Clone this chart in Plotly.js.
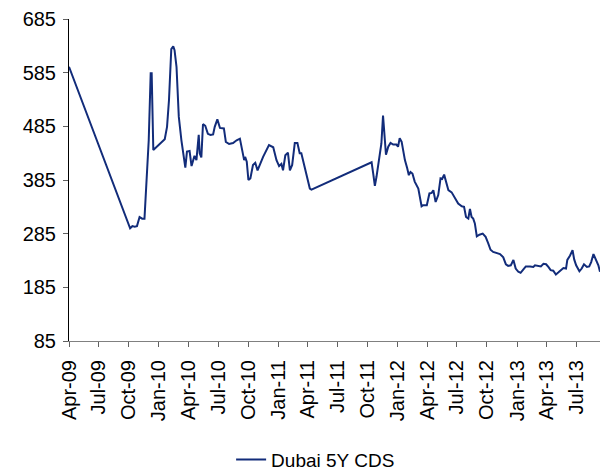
<!DOCTYPE html>
<html>
<head>
<meta charset="utf-8">
<script src="https://cdn.plot.ly/plotly-3.0.1.min.js"></script>
<style>
  html, body { margin: 0; padding: 0; background: #ffffff; }
  #chart { width: 605px; height: 472px; }
</style>
</head>
<body>
<div id="chart"></div>
<script>
// Dubai 5Y CDS (bp)
var dates = [
  "2009-04-01","2009-10-05","2009-10-12","2009-10-19","2009-10-26","2009-11-03","2009-11-11","2009-11-18",
  "2009-12-01","2009-12-07","2009-12-10","2009-12-15","2010-01-19","2010-01-26","2010-02-01","2010-02-08",
  "2010-02-14","2010-02-18","2010-02-24","2010-03-03","2010-03-11","2010-03-18","2010-03-23","2010-03-28",
  "2010-04-05","2010-04-11","2010-04-15","2010-04-20","2010-04-26","2010-05-03","2010-05-06","2010-05-11",
  "2010-05-16","2010-05-23","2010-05-31","2010-06-08","2010-06-16","2010-06-21","2010-06-29","2010-07-07",
  "2010-07-19","2010-07-25","2010-08-04","2010-08-16","2010-08-27","2010-09-06","2010-09-19","2010-09-22",
  "2010-09-27","2010-10-02","2010-10-08","2010-10-16","2010-10-23","2010-10-30","2010-11-16","2010-12-04",
  "2010-12-17","2010-12-27","2011-01-04","2011-01-11","2011-01-16","2011-01-23","2011-01-31","2011-02-06",
  "2011-02-13","2011-02-21","2011-03-01","2011-03-08","2011-03-13","2011-03-23","2011-04-08","2011-04-13",
  "2011-10-14","2011-10-19","2011-10-24","2011-10-29","2011-11-06","2011-11-13","2011-11-18","2011-11-21",
  "2011-11-27","2011-12-04","2011-12-11","2011-12-19","2011-12-29","2012-01-03","2012-01-08","2012-01-14",
  "2012-01-24","2012-01-31","2012-02-05","2012-02-10","2012-02-16","2012-02-23","2012-03-05","2012-03-15",
  "2012-03-20","2012-03-31","2012-04-08","2012-04-15","2012-04-20","2012-04-27","2012-05-05","2012-05-12",
  "2012-05-17","2012-05-23","2012-05-28","2012-06-05","2012-06-15","2012-06-25","2012-07-05","2012-07-16",
  "2012-07-23","2012-07-29","2012-08-05","2012-08-10","2012-08-15","2012-08-20","2012-08-25","2012-08-31",
  "2012-09-08","2012-09-18","2012-09-27","2012-10-05","2012-10-12","2012-10-20","2012-10-31","2012-11-10",
  "2012-11-20","2012-11-28","2012-12-05","2012-12-13","2012-12-21","2012-12-28","2013-01-05","2013-01-12",
  "2013-01-20","2013-01-28","2013-02-10","2013-02-20","2013-02-25","2013-03-07","2013-03-15","2013-03-23",
  "2013-03-31","2013-04-07","2013-04-14","2013-04-22","2013-04-30","2013-05-08","2013-05-15","2013-05-23",
  "2013-05-31","2013-06-04","2013-06-12","2013-06-20","2013-06-25","2013-07-01","2013-07-11","2013-07-18",
  "2013-07-25","2013-08-03","2013-08-10","2013-08-16","2013-08-23","2013-08-31","2013-09-07","2013-09-12"
];
var cds = [
  596,295,299,298,299,316,313,313,
  459,584,584,441,461,484,534,629,
  634,627,596,503,459,428,408,438,
  439,411,419,430,422,469,435,427,
  489,486,471,469,470,484,498,482,
  481,456,452,454,459,462,422,428,
  419,385,388,413,417,403,428,450,
  446,422,411,415,403,431,436,403,
  413,454,454,435,435,410,369,367,
  418,397,374,391,425,453,505,478,
  432,447,454,451,451,447,463,456,
  422,407,394,400,397,382,369,336,
  338,338,360,361,366,344,357,388,
  387,395,382,366,362,351,341,336,
  335,316,313,331,316,313,304,280,
  283,285,279,267,255,251,249,247,
  241,228,225,226,236,220,214,212,
  218,224,224,223,226,225,224,229,
  228,223,217,216,209,213,217,221,
  220,236,244,254,237,226,215,220,
  228,223,224,232,247,236,226,214
];
var seriesName = "Dubai 5Y CDS";
var xRange = ["2009-04-01", "2013-09-12"];
var yRange = [85, 685];

var FONT = "'Liberation Sans', Arial, Helvetica, sans-serif";

var trace = {
  type: "scatter",
  mode: "lines",
  x: dates,
  y: cds,
  name: seriesName,
  line: { color: "#122c7a", width: 2 },
  showlegend: true
};

var layout = {
  width: 605,
  height: 472,
  margin: { l: 69, r: 5, t: 19, b: 131, pad: 0, autoexpand: false },
  paper_bgcolor: "#ffffff",
  plot_bgcolor: "#ffffff",
  font: { family: FONT, size: 20, color: "#000000" },
  showlegend: true,
  legend: {
    orientation: "h",
    xref: "container", yref: "container",
    x: 0.382, xanchor: "left",
    y: 0.026, yanchor: "middle",
    font: { family: FONT, size: 19, color: "#000000" },
    itemwidth: 30,
    bgcolor: "rgba(0,0,0,0)"
  },
  xaxis: {
    type: "date",
    range: xRange,
    tick0: "2009-04-01",
    dtick: "M3",
    tickformat: "%b-%y",
    tickangle: -90,
    ticks: "outside",
    ticklen: 5,
    tickcolor: "#606060",
    tickwidth: 1,
    showline: true,
    linecolor: "#808080",
    linewidth: 1,
    showgrid: false,
    zeroline: false,
    automargin: false,
    ticklabelstandoff: 5,
    tickfont: { family: FONT, size: 20, color: "#000000" }
  },
  yaxis: {
    range: yRange,
    tick0: 85,
    dtick: 100,
    ticks: "outside",
    ticklen: 5,
    tickcolor: "#606060",
    tickwidth: 1,
    showline: true,
    linecolor: "#000000",
    linewidth: 1,
    showgrid: false,
    zeroline: false,
    automargin: false,
    ticklabelstandoff: 3,
    tickfont: { family: FONT, size: 20, color: "#000000" }
  }
};

Plotly.newPlot("chart", [trace], layout, { displayModeBar: false, staticPlot: true });
</script>
</body>
</html>
